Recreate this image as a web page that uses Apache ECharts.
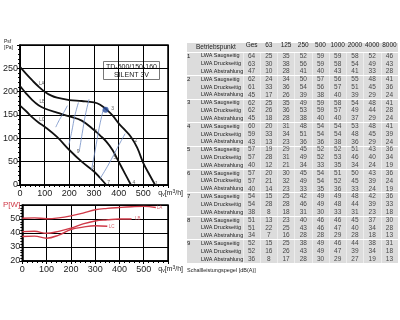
<!DOCTYPE html>
<html><head><meta charset="utf-8">
<script src="https://cdn.jsdelivr.net/npm/echarts@6/dist/echarts.min.js"></script>
<style>html,body{margin:0;padding:0;background:#fff}#c{width:400px;height:320px}</style>
</head><body><div id="c"></div><script>
// ---- pressure curves (qv m3/h, psf Pa)
const curveLA = [[0,253],[25,238],[50,224],[75,211],[100,200],[125,192],[150,187],[200,182],[250,180],[300,177],[325,172],[350,162],[375,149],[400,132],[425,118],[450,103],[475,80],[500,47],[525,22],[548,0]];
const curveLB = [[0,212],[25,196],[50,182],[75,171],[100,164],[150,155],[200,147],[250,138],[300,118],[325,106],[350,93],[375,75],[400,50],[425,25],[450,0]];
const curveLC = [[0,170],[25,158],[50,145],[75,134],[100,125],[150,103],[200,75],[250,50],[300,29],[325,15],[350,0]];
const isoA = [[145,124],[160,140],[178,156],[192,170]];
const isoB = [[198,86],[210,115],[222,148],[237,177]];
const isoC = [[240,72],[252,110],[265,150],[280,184]];
const isoD = [[290,33],[305,75],[320,120],[337,161]];
const isoE = [[324,13],[360,45],[395,80],[426,110]];
const curveNames = ['LA','LB','LC'];
const curveNamePos = [[88,218],[90,179],[90,140]];
const pointNames = ['1','2','3','4','5','6','7','8','9'];
const pointPos = [[553,4],[470,95],[376,164],[462,5],[385,58],[308,114],[359,5],[300,38],[236,71]];
const markedPoint = [[347,161]];
// ---- power curves (qv m3/h, P W)
const powerLA = [[0,50.5],[50,50.8],[100,50.2],[150,50.8],[200,52.2],[250,54.2],[300,56.6],[350,57.6],[400,58.2],[450,58.7],[500,59],[550,58.2]];
const powerLB = [[0,41],[50,41.2],[100,39.8],[150,41.2],[200,43.5],[250,46.5],[300,48.6],[350,49.4],[400,50],[450,50]];
const powerLC = [[0,37.5],[50,37.8],[100,36.3],[150,38.5],[200,42.5],[250,44.2],[300,45.2],[350,44.8]];
const powerNamePos = [[565,58.3],[475,50],[368,44.8]];
// ---- table
const bands = ['Ges','63','125','250','500','1000','2000','4000','8000'];
const rowTypes = ['LWA Saugseitig','LWA Druckseitig','LWA Abstrahlung'];
const tableValues = [
 [64,25,35,52,59,59,58,52,46],[63,30,38,56,59,58,54,49,43],[47,10,28,41,40,43,41,33,28],
 [62,24,34,50,57,56,55,48,41],[61,33,36,54,56,57,51,45,36],[45,17,26,39,38,40,39,29,24],
 [62,25,35,49,59,58,54,48,41],[62,26,36,53,59,57,49,44,28],[45,18,28,38,40,40,37,29,24],
 [60,20,31,48,54,54,53,48,41],[59,33,34,51,54,54,48,45,39],[43,13,23,36,36,38,36,29,24],
 [57,19,29,45,52,52,51,43,36],[57,28,31,49,52,53,46,40,34],[40,12,21,34,33,35,34,24,19],
 [57,20,30,45,54,51,50,43,36],[57,21,32,49,54,52,45,39,24],[40,14,23,33,35,36,33,24,19],
 [54,15,25,42,49,49,48,42,36],[54,28,28,46,49,48,44,39,33],[38,8,18,31,30,33,31,23,18],
 [51,13,23,40,46,46,45,37,30],[51,22,25,43,46,47,40,34,28],[34,7,16,28,28,29,28,18,13],
 [52,15,25,38,49,46,44,38,31],[52,16,26,43,49,47,39,34,18],[36,8,17,28,30,29,27,19,13]
];
const rowLabels = [];
for (let p = 0; p < 9; p++) rowTypes.forEach(t => rowLabels.push(t));
const tableCells = [];
tableValues.forEach((row, r) => row.forEach((v, c) => tableCells.push([c, r, v])));

const FONT = 'Liberation Sans';
const NARROW = "'Liberation Sans Narrow','Liberation Sans',sans-serif";
const chart = echarts.init(document.getElementById('c'), null, {renderer:'canvas'});
const qvName = {
  name: '{a|q}{s|v}{a|[m}{s2|3}{a|/h]}', nameLocation: 'end', nameGap: 15,
  nameTextStyle: {align:'right', verticalAlign:'top', padding:[4,0,0,0],
    rich:{a:{fontSize:7,color:'#222',fontFamily:FONT}, s:{fontSize:5,color:'#222',verticalAlign:'bottom',padding:[3,0,0,0]}, s2:{fontSize:5,color:'#222',padding:[0,0,3,0]}}}
};
function xAx(gi) {
  return Object.assign({gridIndex:gi, type:'value', min:0, max:600, interval:100,
    axisLine:{show:true, lineStyle:{color:'#000', width:1.5}},
    axisTick:{show:true, length:3, lineStyle:{color:'#000'}},
    minorTick:{show:true, splitNumber:5, length:2, lineStyle:{color:'#000'}},
    axisLabel:{fontSize:9, color:'#222', margin:4, fontFamily:FONT, formatter:v => v===600 ? '' : v},
    splitLine:{show:true, lineStyle:{color:'#000', width:1}}}, qvName);
}
const lineS = (name, data, xi, color, w) => ({type:'line', name, data, xAxisIndex:xi, yAxisIndex:xi, smooth:0.4, symbol:'none', lineStyle:{color, width:w}, z:3});
const labelS = (data, xi, color, size) => ({type:'scatter', xAxisIndex:xi, yAxisIndex:xi, symbolSize:0, data, z:5,
  label:{show:true, position:'inside', formatter:'{b}', fontSize:size, color, fontFamily:FONT}});

chart.setOption({
  animation:false,
  grid:[
    {left:17, top:45, width:151, height:140, show:true, borderColor:'#000', borderWidth:1.5},
    {left:17, top:205, width:151, height:56, show:true, borderColor:'#000', borderWidth:1.5},
    {left:243, top:52, right:2, bottom:57}
  ],
  xAxis:[ xAx(0), xAx(1),
    {gridIndex:2, type:'category', data:bands, position:'top',
      axisLine:{show:false}, axisTick:{show:false},
      axisLabel:{fontSize:6.5, color:'#222', margin:3, fontFamily:NARROW, interval:0, hideOverlap:false},
      splitLine:{show:true, interval:0, lineStyle:{color:'rgba(255,255,255,0.6)', width:0.8}}}
  ],
  yAxis:[
    {gridIndex:0, type:'value', min:0, max:300, interval:50,
      axisLine:{show:true, lineStyle:{color:'#000', width:1.5}},
      axisTick:{show:true, length:3, lineStyle:{color:'#000'}},
      minorTick:{show:true, splitNumber:5, length:2, lineStyle:{color:'#000'}},
      axisLabel:{fontSize:9, color:'#222', margin:2, fontFamily:FONT, formatter:v => v===300 ? '' : v},
      splitLine:{show:true, lineStyle:{color:'#000', width:1}}},
    {gridIndex:1, type:'value', min:20, max:60, interval:10,
      axisLine:{show:true, lineStyle:{color:'#000', width:1.5}},
      axisTick:{show:true, length:3, lineStyle:{color:'#000'}},
      minorTick:{show:true, splitNumber:5, length:2, lineStyle:{color:'#000'}},
      axisLabel:{fontSize:9, color:'#222', margin:2, fontFamily:FONT,
        formatter:v => v===60 ? '{r|P[W]}' : v, rich:{r:{color:'#d03a48', fontSize:8, fontFamily:FONT}}},
      splitLine:{show:true, lineStyle:{color:'#000', width:1}}},
    {gridIndex:2, type:'category', data:rowLabels, inverse:true,
      axisLine:{show:false},
      axisTick:{show:true, length:56, interval:i => i % 3 === 0, lineStyle:{color:'#fff', width:1}},
      axisLabel:{align:'left', margin:56, fontSize:5.5, color:'#222', fontFamily:NARROW, interval:0, hideOverlap:false,
        formatter:(v, i) => '{n|' + (i % 3 === 0 ? String(i/3 + 1) : '') + '}{l|' + v + '}',
        rich:{n:{width:14, fontSize:6, color:'#222', fontFamily:NARROW}, l:{fontSize:5.5, color:'#222', fontFamily:NARROW}}},
      splitLine:{show:true, interval:i => i % 3 === 0, lineStyle:{color:'#fff', width:1}}}
  ],
  graphic:[
    {type:'rect', shape:{x:187, y:43, width:211, height:220}, style:{fill:'#dcdcdc'}, z:-10, silent:true},
    {type:'text', left:196, top:44, style:{text:'Betriebspunkt', fontSize:6.5, fill:'#222', fontFamily:NARROW}},
    {type:'text', left:187, top:267, style:{text:'Schallleistungspegel [dB(A)]', fontSize:5.5, fill:'#222', fontFamily:NARROW}},
    {type:'group', left:103, top:61, z:10, children:[
      {type:'rect', shape:{x:0, y:0, width:56, height:18}, style:{fill:'#fff', stroke:'#777', lineWidth:1}},
      {type:'text', x:28, y:2.5, style:{text:'TD-500/150-160', fontSize:7, fill:'#222', align:'center', fontFamily:FONT}},
      {type:'text', x:28, y:10, style:{text:'SILENT 3V', fontSize:7, fill:'#222', align:'center', fontFamily:FONT}}
    ]},
    {type:'text', left:4, top:39, style:{text:'Psf\n[Pa]', fontSize:5, lineHeight:6, fill:'#222', fontFamily:FONT}}
  ],
  series:[
    lineS('LA', curveLA, 0, '#111', 1.8),
    lineS('LB', curveLB, 0, '#111', 1.8),
    lineS('LC', curveLC, 0, '#111', 1.8),
    lineS('a', isoA, 0, '#6f8cc4', 0.8),
    lineS('b', isoB, 0, '#6f8cc4', 0.8),
    lineS('c', isoC, 0, '#6f8cc4', 0.8),
    lineS('d', isoD, 0, '#6f8cc4', 0.8),
    lineS('e', isoE, 0, '#6f8cc4', 0.8),
    {type:'scatter', xAxisIndex:0, yAxisIndex:0, data:markedPoint, symbolSize:6, itemStyle:{color:'#2b4f9e'}, z:6},
    labelS(curveNames.map((n,i) => ({name:n, value:curveNamePos[i]})), 0, '#333', 4.5),
    labelS(pointNames.map((n,i) => ({name:n, value:pointPos[i]})), 0, '#333', 5),
    lineS('PLA', powerLA, 1, '#d03a48', 1.4),
    lineS('PLB', powerLB, 1, '#d03a48', 1.4),
    lineS('PLC', powerLC, 1, '#d03a48', 1.4),
    labelS(curveNames.map((n,i) => ({name:n, value:powerNamePos[i]})), 1, '#d03a48', 4.5),
    {type:'scatter', xAxisIndex:2, yAxisIndex:2, data:tableCells, symbolSize:0, z:5,
      label:{show:true, position:'inside', formatter:p => p.value[2], fontSize:6.5, color:'#222', fontFamily:NARROW}}
  ]
});
</script></body></html>
